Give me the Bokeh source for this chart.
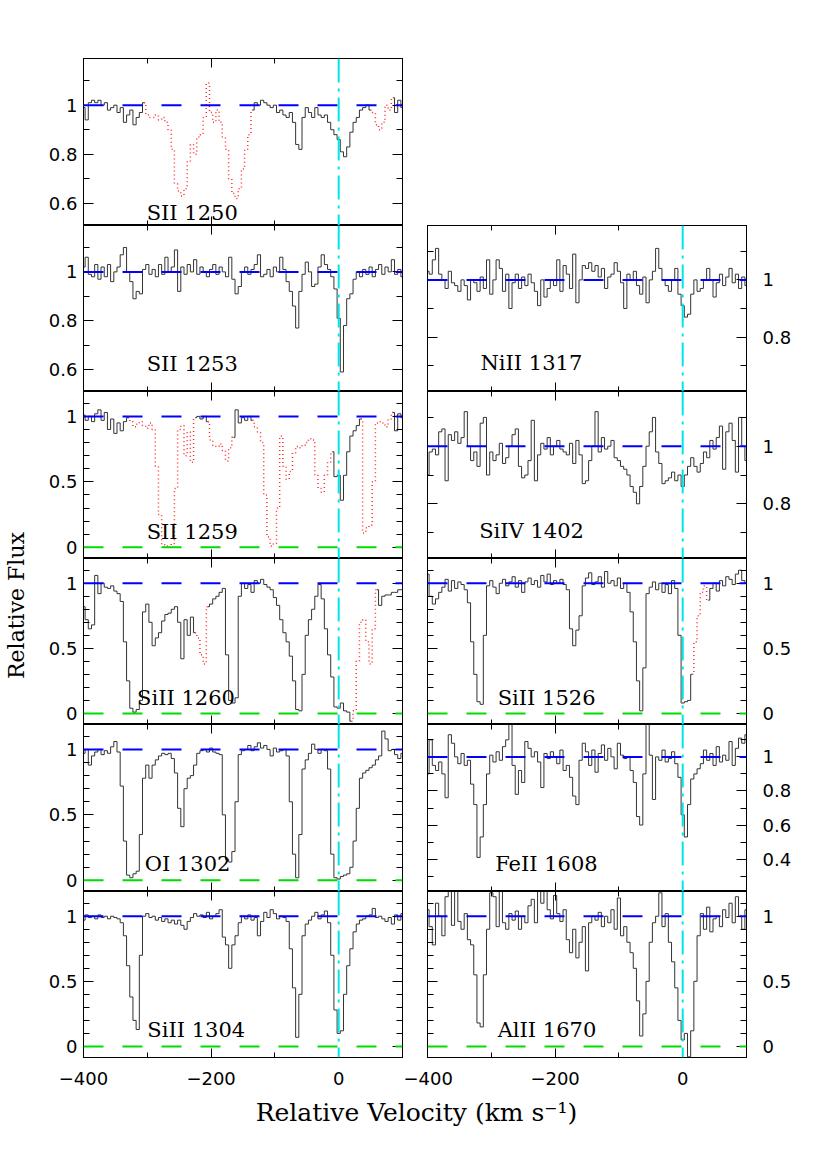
import math
from bokeh.plotting import figure
from bokeh.models import (Range1d, LinearAxis, FixedTicker, Span, Label, Spacer,
                          CustomJSTickFormatter)
from bokeh.layouts import row, column
from bokeh.embed import file_html
from bokeh.resources import INLINE

# ---------------- data ----------------
velocity = list(range(-400, 101, 5))   # km/s, 101 samples

flux_sii_1250 = [
    0.99, 0.94, 1.01, 1.02, 1.01, 1.02, 1.00, 1.01, 0.98, 0.99,
    1.00, 0.97, 0.99, 0.93, 0.96, 0.98, 0.92, 0.95, 0.97, 1.01,
    0.96, 0.95, 0.95, 0.96, 0.94, 0.95, 0.93, 0.90, 0.82, 0.68,
    0.65, 0.63, 0.66, 0.77, 0.84, 0.80, 0.87, 0.88, 0.95, 1.09,
    0.97, 0.93, 0.98, 0.93, 0.87, 0.82, 0.70, 0.64, 0.62, 0.66,
    0.74, 0.82, 0.88, 0.98, 1.01, 1.00, 1.02, 1.01, 1.00, 0.99,
    1.00, 0.97, 0.98, 0.96, 0.95, 0.97, 0.93, 0.84, 0.82, 0.95,
    0.99, 0.97, 0.95, 0.99, 0.96, 0.95, 0.96, 0.93, 0.90, 0.88,
    0.86, 0.81, 0.79, 0.83, 0.89, 0.93, 0.95, 0.98, 0.99, 1.00,
    0.98, 0.97, 0.92, 0.90, 0.93, 1.00, 0.98, 1.03, 0.97, 1.02,
    0.99]
blends_sii_1250 = [(-302, -137), (52, 80)]

flux_sii_1253 = [
    1.02, 1.06, 0.99, 0.98, 1.03, 0.97, 1.02, 0.98, 1.03, 0.96,
    1.00, 1.02, 1.07, 1.10, 1.00, 0.96, 0.89, 0.92, 0.91, 1.01,
    1.03, 0.99, 1.01, 0.98, 1.03, 0.99, 1.06, 1.00, 1.02, 1.09,
    0.92, 1.02, 0.99, 1.03, 1.00, 1.05, 0.99, 1.02, 1.00, 0.98,
    1.01, 1.03, 0.99, 1.02, 1.00, 0.98, 1.06, 0.97, 0.91, 0.94,
    1.00, 1.02, 0.99, 1.01, 1.03, 1.07, 0.98, 0.99, 1.01, 0.98,
    1.02, 1.00, 1.06, 1.01, 0.96, 0.92, 0.86, 0.77, 0.92, 0.99,
    1.04, 1.00, 0.94, 0.95, 1.02, 1.07, 1.03, 1.01, 0.98, 0.93,
    0.81, 0.59, 0.78, 0.89, 0.91, 0.97, 1.00, 0.98, 1.01, 0.99,
    1.02, 0.98, 1.01, 1.03, 0.99, 1.02, 1.00, 1.05, 0.99, 1.01,
    0.98]
blends_sii_1253 = []

flux_sii_1259 = [
    1.01, 0.97, 1.00, 0.96, 1.02, 1.05, 0.97, 1.03, 0.90, 0.98,
    0.87, 0.95, 0.89, 0.96, 0.99, 0.96, 0.92, 0.94, 0.96, 0.93,
    0.91, 0.95, 0.90, 0.62, 0.25, 0.02, 0.01, 0.00, 0.03, 0.45,
    0.90, 0.93, 0.70, 0.88, 0.65, 0.99, 1.00, 0.98, 1.00, 0.96,
    0.82, 0.78, 0.77, 0.79, 0.74, 0.66, 0.76, 0.84, 1.05, 0.95,
    0.99, 0.97, 1.00, 0.97, 0.92, 0.88, 0.80, 0.40, 0.08, 0.01,
    0.03, 0.30, 0.85, 0.62, 0.52, 0.58, 0.72, 0.77, 0.76, 0.78,
    0.80, 0.83, 0.82, 0.55, 0.45, 0.42, 0.55, 0.65, 0.73, 0.54,
    0.55, 0.36, 0.55, 0.73, 0.85, 0.89, 0.93, 0.98, 0.11, 0.15,
    0.17, 0.50, 0.95, 0.96, 0.95, 0.92, 0.98, 1.03, 0.89, 1.02,
    0.99]
blends_sii_1259 = [(-328, -227), (-202, -167), (-132, -12), (37, 82)]

flux_siii_1260 = [
    0.82, 0.72, 0.65, 0.68, 1.06, 0.92, 1.00, 0.97, 0.96, 0.98,
    0.94, 0.92, 0.86, 0.55, 0.25, 0.04, 0.01, 0.03, 0.10, 0.78,
    0.84, 0.70, 0.52, 0.58, 0.62, 0.71, 0.76, 0.77, 0.80, 0.82,
    0.70, 0.42, 0.72, 0.60, 0.74, 0.62, 0.58, 0.45, 0.38, 0.82,
    0.84, 0.88, 0.90, 0.93, 0.96, 0.45, 0.10, 0.08, 0.12, 0.90,
    1.00, 0.96, 0.99, 0.93, 1.02, 1.00, 1.03, 0.99, 0.97, 0.95,
    0.89, 0.83, 0.72, 0.62, 0.55, 0.44, 0.25, 0.03, 0.02, 0.30,
    0.60, 0.72, 0.80, 0.90, 0.99, 0.88, 0.65, 0.45, 0.28, 0.05,
    0.04, 0.08, 0.02, 0.01, -0.06, 0.02, 0.40, 0.70, 0.72, 0.55,
    0.38, 0.65, 0.95, 0.83, 0.90, 0.91, 0.91, 0.93, 0.93, 0.95,
    0.95]
blends_siii_1260 = [(-222, -207), (22, 58)]

flux_oi_1302 = [
    0.97, 1.00, 0.88, 0.95, 0.98, 1.00, 0.96, 0.99, 0.97, 1.02,
    1.06, 0.98, 0.72, 0.30, 0.04, 0.02, 0.05, 0.07, 0.35, 0.78,
    0.88, 0.78, 0.88, 0.92, 0.95, 0.97, 0.96, 0.97, 0.93, 0.82,
    0.55, 0.41, 0.70, 0.78, 0.80, 0.88, 0.97, 0.99, 1.00, 0.98,
    1.01, 0.98, 0.97, 0.96, 0.50, 0.16, 0.14, 0.22, 0.60, 0.96,
    0.99, 1.00, 1.03, 0.99, 1.02, 1.05, 1.01, 1.03, 1.00, 0.95,
    1.01, 0.98, 0.99, 1.00, 0.95, 0.60, 0.20, 0.02, 0.35, 0.85,
    0.92, 0.97, 1.04, 1.00, 0.97, 1.00, 0.99, 0.85, 0.20, 0.02,
    0.01, 0.03, 0.04, 0.05, 0.10, 0.30, 0.55, 0.78, 0.82, 0.84,
    0.86, 0.88, 0.92, 0.95, 1.14, 1.08, 0.99, 1.00, 0.96, 0.93,
    0.97]
blends_oi_1302 = []

flux_siii_1304 = [
    0.97, 1.01, 0.99, 1.00, 0.98, 1.01, 0.99, 1.00, 0.98, 1.00,
    0.99, 0.98, 0.95, 0.85, 0.62, 0.38, 0.20, 0.13, 0.70, 1.00,
    1.02, 0.99, 1.00, 0.97, 0.99, 0.96, 0.98, 0.95, 0.97, 0.94,
    0.97, 0.93, 0.90, 0.96, 0.99, 1.02, 1.00, 1.01, 0.99, 1.03,
    0.98, 1.00, 1.02, 1.05, 0.84, 0.78, 0.60, 0.78, 0.85, 0.95,
    1.00, 0.98, 1.01, 0.97, 0.99, 0.85, 0.96, 1.03, 0.99, 1.05,
    1.02, 0.98, 1.00, 0.99, 0.96, 0.75, 0.45, 0.07, 0.40, 0.85,
    0.94, 0.97, 1.00, 1.03, 0.98, 1.01, 1.04, 0.95, 0.70, 0.28,
    0.10, 0.12, 0.40, 0.62, 0.75, 0.88, 0.94, 0.97, 0.98, 1.00,
    1.01, 1.06, 0.99, 1.00, 0.98, 0.96, 0.99, 0.94, 1.01, 0.97,
    1.02]
blends_siii_1304 = []

flux_nii_1317 = [
    1.03, 1.02, 1.07, 1.11, 1.02, 1.00, 0.97, 1.03, 0.99, 0.98,
    0.96, 1.00, 0.98, 0.93, 1.00, 0.99, 0.96, 1.01, 0.97, 1.07,
    0.95, 1.00, 1.07, 1.04, 0.96, 1.02, 0.90, 0.99, 1.02, 0.97,
    1.01, 0.98, 1.02, 0.99, 0.96, 0.91, 1.00, 0.94, 0.97, 1.00,
    0.98, 1.07, 0.96, 1.05, 1.02, 0.97, 1.09, 0.92, 1.00, 1.05,
    1.04, 1.06, 1.03, 1.05, 1.01, 1.04, 0.97, 1.01, 1.02, 1.06,
    1.03, 0.99, 0.90, 1.02, 1.00, 1.03, 0.98, 0.95, 1.01, 0.92,
    1.00, 1.03, 1.11, 1.04, 1.00, 0.98, 0.96, 1.00, 1.04, 0.95,
    0.91, 0.87, 0.88, 0.95, 1.00, 0.96, 0.97, 1.00, 1.04, 1.00,
    0.94, 0.99, 1.02, 0.98, 1.01, 1.04, 0.99, 1.02, 0.97, 1.01,
    0.98]
blends_nii_1317 = []

flux_siiv_1402 = [
    0.90, 0.98, 0.99, 0.97, 1.05, 1.06, 0.88, 1.04, 1.02, 1.05,
    1.01, 1.03, 1.12, 1.00, 0.95, 0.98, 0.93, 1.08, 1.10, 0.90,
    0.98, 0.95, 0.97, 1.01, 0.94, 0.96, 1.00, 1.04, 1.06, 0.93,
    0.89, 0.90, 0.95, 1.09, 0.88, 0.97, 1.01, 0.99, 1.03, 0.97,
    1.00, 1.02, 0.99, 0.98, 0.97, 1.01, 0.94, 1.02, 0.97, 0.87,
    0.88, 0.95, 1.00, 1.12, 0.98, 1.03, 0.99, 1.00, 1.02, 0.96,
    0.95, 0.93, 0.92, 0.90, 0.86, 0.84, 0.80, 0.86, 0.93, 1.00,
    1.05, 1.10, 0.98, 0.94, 0.87, 0.88, 0.89, 0.91, 0.88, 0.90,
    0.86, 0.90, 0.93, 0.96, 0.93, 0.91, 0.94, 0.98, 0.96, 1.02,
    0.99, 1.03, 1.07, 0.92, 1.05, 1.08, 1.02, 0.91, 1.10, 1.00,
    0.95]
blends_siiv_1402 = []

flux_siii_1526 = [
    1.07, 0.90, 0.84, 0.88, 0.93, 0.97, 1.03, 0.94, 1.02, 0.96,
    1.01, 0.99, 0.95, 0.85, 0.55, 0.30, 0.09, 0.07, 0.60, 0.98,
    1.02, 0.97, 0.92, 1.00, 1.03, 0.98, 1.01, 1.05, 0.97, 1.02,
    0.93, 1.01, 1.04, 0.99, 1.02, 0.97, 1.06, 1.01, 1.07, 0.99,
    1.02, 1.00, 1.03, 0.99, 0.95, 0.65, 0.52, 0.64, 0.75, 0.98,
    1.04, 1.08, 0.99, 1.01, 1.05, 0.97, 1.09, 1.00, 1.02, 0.98,
    1.04, 0.96, 1.00, 0.93, 0.78, 0.55, 0.25, 0.02, 0.35, 0.92,
    0.97, 1.01, 0.95, 1.00, 0.93, 0.99, 0.92, 1.02, 0.96, 0.60,
    0.08, 0.09, 0.10, 0.30, 0.55, 0.75, 0.93, 0.98, 0.87, 0.96,
    1.00, 0.94, 1.02, 0.98, 1.05, 1.03, 0.99, 1.07, 1.10, 1.02,
    1.00]
blends_siii_1526 = [(16, 37)]

flux_feii_1608 = [
    0.90, 1.10, 0.95, 0.92, 0.97, 0.90, 0.76, 1.13, 1.08, 1.00,
    0.96, 1.02, 0.95, 0.98, 0.84, 0.72, 0.41, 0.53, 0.72, 0.90,
    1.01, 0.97, 1.03, 0.98, 1.06, 1.10, 1.19, 0.95, 0.78, 0.92,
    0.85, 1.09, 1.05, 1.00, 1.03, 0.97, 0.82, 1.02, 0.99, 1.03,
    1.00, 0.96, 1.04, 0.92, 0.95, 0.88, 0.77, 0.72, 0.98, 1.08,
    1.03, 0.95, 1.04, 0.91, 1.02, 1.07, 0.98, 1.05, 1.00, 0.93,
    1.08, 1.01, 0.99, 1.00, 0.92, 0.85, 0.65, 0.60, 0.90, 1.22,
    1.01, 0.75, 1.00, 0.98, 1.04, 0.97, 0.99, 1.03, 0.96, 0.88,
    0.66, 0.53, 0.72, 0.87, 0.90, 0.93, 0.96, 1.04, 0.98, 1.02,
    0.95, 1.06, 0.97, 1.01, 0.98, 1.09, 0.95, 1.05, 1.11, 1.08,
    1.13]
blends_feii_1608 = []

flux_alii_1670 = [
    1.05, 0.92, 0.78, 1.10, 1.00, 0.85, 1.15, 1.20, 0.93, 1.20,
    0.96, 0.90, 1.02, 0.82, 0.78, 0.55, 0.18, 0.15, 0.55, 0.90,
    1.18, 1.15, 0.92, 1.20, 0.95, 0.90, 1.02, 0.97, 1.04, 0.90,
    1.00, 0.95, 1.08, 1.13, 0.95, 1.20, 1.10, 1.20, 1.05, 0.98,
    1.16, 1.02, 0.96, 1.05, 0.82, 0.72, 0.90, 0.68, 0.80, 0.92,
    0.58, 0.95, 1.00, 0.97, 1.03, 0.92, 1.00, 0.95, 1.05, 0.90,
    1.14, 0.85, 0.92, 0.80, 0.72, 0.60, 0.35, 0.08, 0.25, 0.50,
    0.80, 0.95, 1.00, 1.18, 0.92, 1.02, 0.80, 0.65, 0.45, 0.20,
    0.05, 0.10, -0.08, 0.12, 0.50, 0.85, 1.02, 0.90, 1.07, 0.88,
    0.98, 1.00, 0.92, 1.05, 0.99, 1.10, 0.95, 1.15, 1.00, 0.90,
    1.05]
blends_alii_1670 = []

line_names_left = ["SII 1250", "SII 1253", "SII 1259", "SiII 1260", "OI 1302", "SiII 1304"]
line_names_right = ["NiII 1317", "SiIV 1402", "SiII 1526", "FeII 1608", "AlII 1670"]

continuum_level = 1.0
zero_level = 0.0
systemic_velocity = 0.0

x_major_ticks = [-400, -200, 0]
x_minor_ticks = [-400, -300, -200, -100, 0, 100]

# ---------------- layout / style (not data) ----------------
FRAME_W = 319
FRAME_H = [167, 166, 167, 166, 167, 166]
XR = (-400, 100)
TOP_PAD = 58
YLAB_W = 38

YSTYLE = {
    "hi":     dict(yr=(0.51, 1.19), major=[0.6, 0.8, 1.0],
                   minor=[0.6, 0.7, 0.8, 0.9, 1.0, 1.1]),
    "full":   dict(yr=(-0.085, 1.19), major=[0.0, 0.5, 1.0],
                   minor=[0.0, 0.1, 0.2, 0.3, 0.4, 0.5, 0.6, 0.7, 0.8, 0.9, 1.0, 1.1]),
    "narrow": dict(yr=(0.61, 1.19), major=[0.8, 1.0],
                   minor=[0.7, 0.8, 0.9, 1.0, 1.1]),
    "fe":     dict(yr=(0.21, 1.19), major=[0.4, 0.6, 0.8, 1.0],
                   minor=[0.3, 0.4, 0.5, 0.6, 0.7, 0.8, 0.9, 1.0, 1.1]),
}

panels = {
    "SII 1250":  dict(flux=flux_sii_1250, blends=blends_sii_1250, ystyle="hi", lab=(-301, 0.559)),
    "SII 1253":  dict(flux=flux_sii_1253, blends=blends_sii_1253, ystyle="hi", lab=(-301, 0.621)),
    "SII 1259":  dict(flux=flux_sii_1259, blends=blends_sii_1259, ystyle="full", lab=(-301, 0.12)),
    "SiII 1260": dict(flux=flux_siii_1260, blends=blends_siii_1260, ystyle="full", lab=(-316, 0.12)),
    "OI 1302":   dict(flux=flux_oi_1302, blends=blends_oi_1302, ystyle="full", lab=(-304, 0.127)),
    "SiII 1304": dict(flux=flux_siii_1304, blends=blends_siii_1304, ystyle="full", lab=(-300, 0.123)),
    "NiII 1317": dict(flux=flux_nii_1317, blends=blends_nii_1317, ystyle="narrow", lab=(-317, 0.709)),
    "SiIV 1402": dict(flux=flux_siiv_1402, blends=blends_siiv_1402, ystyle="narrow", lab=(-319, 0.706)),
    "SiII 1526": dict(flux=flux_siii_1526, blends=blends_siii_1526, ystyle="full", lab=(-290, 0.12)),
    "FeII 1608": dict(flux=flux_feii_1608, blends=blends_feii_1608, ystyle="fe", lab=(-294, 0.372)),
    "AlII 1670": dict(flux=flux_alii_1670, blends=blends_alii_1670, ystyle="full", lab=(-290, 0.123)),
}

TICK_FONT = "DejaVu Sans"
TEXT_FONT = "DejaVu Serif"
DATA_COLOR = "#333333"
BLEND_COLOR = "#ff2a2a"

def hidden_formatter():
    return CustomJSTickFormatter(code="return '';")

def style_axis(ax, labeled, kind, standoff=6):
    if kind == "x":
        ax.major_tick_in, ax.minor_tick_in = 9, 5
    else:
        ax.major_tick_in, ax.minor_tick_in = 10, 6
    ax.major_tick_out = 0
    ax.minor_tick_out = 0
    ax.axis_line_color = "black"
    ax.major_tick_line_color = "black"
    ax.minor_tick_line_color = "black"
    if labeled:
        ax.major_label_text_font = TICK_FONT
        ax.major_label_text_font_size = "18px"
        ax.major_label_text_color = "black"
        ax.major_label_standoff = standoff
        if kind == "x":
            ax.formatter = CustomJSTickFormatter(
                code="return tick < 0 ? '\u2212' + String(-tick) : String(tick);")
        else:
            ax.formatter = CustomJSTickFormatter(
                code="return String(Math.round(tick*10)/10);")
    else:
        ax.formatter = hidden_formatter()
        ax.major_label_text_font_size = "0px"
        ax.major_label_standoff = 0


def build_panel(name, col, r):
    spec = panels[name]
    ys = YSTYLE[spec["ystyle"]]
    last = (r == 5)
    if col == 0:
        bl, br = 45, 1
    else:
        bl, br = 24, 55
    bt = TOP_PAD if r == 0 else 0
    bb = 35 if last else 0
    p = figure(frame_width=FRAME_W, frame_height=FRAME_H[r],
               x_range=Range1d(*XR), y_range=Range1d(*ys["yr"]),
               x_axis_type=None, y_axis_type=None,
               toolbar_location=None, output_backend="svg",
               min_border_left=bl, min_border_right=br,
               min_border_top=bt, min_border_bottom=bb)
    p.outline_line_color = "black"
    p.outline_line_width = 1
    p.background_fill_color = "white"
    p.border_fill_color = "white"

    for loc in ("below", "above"):
        ax = LinearAxis(ticker=FixedTicker(ticks=x_major_ticks, minor_ticks=x_minor_ticks))
        style_axis(ax, loc == "below" and last, "x", standoff=14)
        p.add_layout(ax, loc)
    for loc in ("left", "right"):
        ax = LinearAxis(ticker=FixedTicker(ticks=ys["major"], minor_ticks=ys["minor"]))
        labeled = (loc == "left" and col == 0) or (loc == "right" and col == 1)
        style_axis(ax, labeled, "y", standoff=6 if loc == "left" else 16)
        p.add_layout(ax, loc)

    v = velocity
    f = spec["flux"]
    n = len(v)
    mask = [any(lo <= x <= hi for lo, hi in spec["blends"]) for x in v]
    start = 0
    runs = []
    for i in range(1, n + 1):
        if i == n or mask[i] != mask[start]:
            runs.append((start, i - 1, mask[start]))
            start = i
    # black runs first, blended (red dotted) runs on top and joined to neighbours
    for a, b, red in runs:
        if not red:
            p.step(v[a:b + 1], f[a:b + 1], mode="center",
                   line_color=DATA_COLOR, line_width=1)
    for a, b, red in runs:
        if red:
            s = max(a - 1, 0)
            e = min(b + 1, n - 1)
            p.step(v[s:e + 1], f[s:e + 1], mode="center", line_color=BLEND_COLOR,
                   line_width=1.5, line_dash="1 3")

    p.add_layout(Span(location=continuum_level, dimension="width",
                      line_color="#0000ff", line_width=2, line_dash="20 19"))
    if ys["yr"][0] < zero_level:
        p.add_layout(Span(location=zero_level, dimension="width",
                          line_color="#00dd00", line_width=2, line_dash="20 19"))
    p.add_layout(Span(location=systemic_velocity, dimension="height",
                      line_color="#00e5e5", line_width=2, line_dash="24 6 3 6"))

    lx, ly = spec["lab"]
    p.add_layout(Label(x=lx, y=ly, text=name, text_font=TEXT_FONT,
                       text_font_size="21px", text_color="black",
                       text_align="left", text_baseline="alphabetic"))
    return p


left_figs = [build_panel(nm, 0, r) for r, nm in enumerate(line_names_left)]
right_figs = [build_panel(nm, 1, r + 1) for r, nm in enumerate(line_names_right)]

COL_H = TOP_PAD + sum(FRAME_H) + 35
LEFT_W = 45 + FRAME_W + 1
RIGHT_W = 24 + FRAME_W + 55
TOTAL_W = YLAB_W + LEFT_W + RIGHT_W

ylab = figure(frame_width=YLAB_W, frame_height=COL_H,
              x_range=Range1d(0, YLAB_W), y_range=Range1d(0, COL_H),
              x_axis_type=None, y_axis_type=None, toolbar_location=None,
              output_backend="svg", min_border=0)
ylab.outline_line_color = None
ylab.grid.visible = False
ylab.add_layout(Label(x=16, y=COL_H - 605, text="Relative Flux", angle=math.pi / 2,
                      text_align="center", text_baseline="middle",
                      text_font=TEXT_FONT, text_font_size="22px", text_color="black"))

XLAB_H = 50
xlab = figure(frame_width=TOTAL_W, frame_height=XLAB_H,
              x_range=Range1d(0, TOTAL_W), y_range=Range1d(0, XLAB_H),
              x_axis_type=None, y_axis_type=None, toolbar_location=None,
              output_backend="svg", min_border=0)
xlab.outline_line_color = None
xlab.grid.visible = False
xlab.add_layout(Label(x=416, y=XLAB_H - (1112 - COL_H), text="Relative Velocity (km s\u207b\u00b9)",
                      text_align="center", text_baseline="middle",
                      text_font=TEXT_FONT, text_font_size="25px", text_color="black"))

left_col = column(*left_figs)
right_col = column(Spacer(width=RIGHT_W, height=TOP_PAD + FRAME_H[0]), *right_figs)
layout = column(row(ylab, left_col, right_col), xlab)

open("out.html", "w", encoding="utf-8").write(file_html(layout, INLINE, title="Relative Flux"))
